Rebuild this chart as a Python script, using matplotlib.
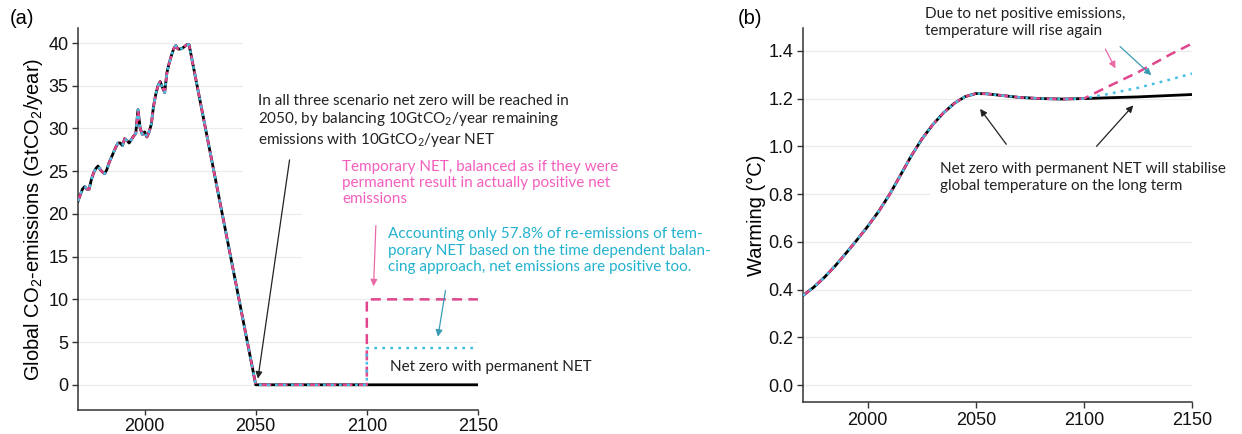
import matplotlib
matplotlib.use('Agg')
import matplotlib.pyplot as plt
from matplotlib.patches import Rectangle

# ---- data ----
hist_years = list(range(1970, 2021))
hist_emis = [21.5, 22.2, 22.9, 23.2, 22.9, 22.9, 24.0, 24.8, 25.3, 25.6,
             25.2, 24.9, 24.7, 25.2, 26.0, 26.6, 27.2, 27.8, 28.3, 28.3,
             28.0, 28.8, 28.6, 28.3, 28.7, 29.1, 29.4, 32.2, 30.0, 29.3,
             29.6, 29.0, 29.6, 30.5, 32.6, 34.0, 35.0, 35.5, 34.8, 34.2,
             36.5, 37.6, 38.5, 39.3, 39.7, 39.3, 39.3, 39.4, 39.6, 39.8,
             39.8]
netzero_year = 2050
net_start_year = 2100
end_year = 2150
pink_level = 10.0   # temporary NET balanced as permanent
cyan_level = 4.3    # 57.8 % of re-emissions accounted

warm_years = [1970, 1975, 1980, 1985, 1990, 1995, 2000, 2005, 2010, 2015,
              2020, 2025, 2030, 2035, 2040, 2045, 2050, 2055, 2060, 2065,
              2070, 2080, 2090, 2100]
warm_vals = [0.375, 0.41, 0.452, 0.50, 0.553, 0.608, 0.665, 0.727, 0.797, 0.877,
             0.958, 1.03, 1.09, 1.14, 1.18, 1.208, 1.221, 1.22, 1.215, 1.21,
             1.205, 1.20, 1.198, 1.20]
post_years = [2100, 2110, 2125, 2140, 2150]
warm_black = [1.20, 1.203, 1.207, 1.213, 1.217]
warm_pink = [1.20, 1.245, 1.31, 1.385, 1.43]
warm_cyan = [1.20, 1.217, 1.245, 1.28, 1.305]

PINK = '#e0468e'
CYAN = '#45bfe4'
PINK_TXT = '#f45fbe'
CYAN_TXT = '#22b2cf'
NOTE_FONT = 'Lato'
NOTE_SIZE = 11

plt.rcParams['font.family'] = ['Liberation Sans', 'DejaVu Sans']

fig = plt.figure(figsize=(12.42, 4.34), dpi=100)
ax1 = fig.add_axes([0.0628, 0.0553, 0.322, 0.880])
ax2 = fig.add_axes([0.6465, 0.0737, 0.3132, 0.862])


def style(ax):
    for s in ['top', 'right']:
        ax.spines[s].set_visible(False)
    for s in ['left', 'bottom']:
        ax.spines[s].set_color('#333333')
        ax.spines[s].set_linewidth(1.1)
    ax.tick_params(colors='#333333', labelcolor='#111111', labelsize=13,
                   length=4, width=1.0, pad=3)
    ax.yaxis.grid(True, color='#ebebeb', lw=0.9)
    ax.set_axisbelow(True)
    ax.set_xlim(1970, 2150)
    ax.set_xticks([2000, 2050, 2100, 2150])


def draw_three(ax, xb, yb, xp, yp, xc, yc):
    ax.plot(xb, yb, color='black', lw=2.0, zorder=3)
    ax.plot(xp, yp, color=PINK, lw=1.8, ls=(0, (4, 2.5)), zorder=4)
    ax.plot(xc, yc, color=CYAN, lw=1.8, ls=(0, (1.1, 2.1)), zorder=5)


# ---- (a) emissions ----
style(ax1)
ax1.tick_params(axis='x', length=3.5, pad=2)
black_x = hist_years + [netzero_year, end_year]
black_y = hist_emis + [0, 0]
pink_x = hist_years + [netzero_year, net_start_year, net_start_year, end_year]
pink_y = hist_emis + [0, 0, pink_level, pink_level]
cyan_y = hist_emis + [0, 0, cyan_level, cyan_level]
draw_three(ax1, black_x, black_y, pink_x, pink_y, pink_x, cyan_y)

ax1.set_ylim(-2.95, 41.75)
ax1.set_yticks(range(0, 45, 5))
ax1.set_ylabel('Global CO$\\mathregular{_2}$-emissions (GtCO$\\mathregular{_2}$/year)',
               fontsize=14.5, labelpad=2)

# white text boxes hiding gridlines, as in the source
ax1.add_patch(Rectangle((0.4125, 0.578), 0.9, 0.41, transform=ax1.transAxes,
                        fc='white', ec='none', zorder=2, clip_on=False))
ax1.add_patch(Rectangle((0.56, 0.344), 0.9, 0.225, transform=ax1.transAxes,
                        fc='white', ec='none', zorder=2, clip_on=False))

ax1.text(0.45, 0.828,
         'In all three scenario net zero will be reached in\n'
         '2050, by balancing 10GtCO$\\mathregular{_2}$/year remaining\n'
         'emissions with 10GtCO$\\mathregular{_2}$/year NET',
         transform=ax1.transAxes, ha='left', va='top', fontsize=NOTE_SIZE,
         family=NOTE_FONT, color='#222222', linespacing=1.2, zorder=6)
ax1.annotate('', xy=(2050.8, 0.4), xycoords='data',
             xytext=(0.53, 0.662), textcoords='axes fraction',
             arrowprops=dict(arrowstyle='-|>', color='#222222', lw=0.9,
                             mutation_scale=10), zorder=6)

ax1.text(0.66, 0.655,
         'Temporary NET, balanced as if they were\n'
         'permanent result in actually positive net\n'
         'emissions',
         transform=ax1.transAxes, ha='left', va='top', fontsize=NOTE_SIZE,
         family=NOTE_FONT, color=PINK_TXT, linespacing=1.2, zorder=6)
ax1.annotate('', xy=(2103, 11.2), xycoords='data',
             xytext=(0.745, 0.49), textcoords='axes fraction',
             arrowprops=dict(arrowstyle='-|>', color='#e86aa8', lw=0.9,
                             mutation_scale=10), zorder=6)

ax1.text(0.775, 0.478,
         'Accounting only 57.8% of re-emissions of tem-\n'
         'porary NET based on the time dependent balan-\n'
         'cing approach, net emissions are positive too.',
         transform=ax1.transAxes, ha='left', va='top', fontsize=NOTE_SIZE,
         family=NOTE_FONT, color=CYAN_TXT, linespacing=1.2, zorder=6)
ax1.annotate('', xy=(2131.8, 5.3), xycoords='data',
             xytext=(0.92, 0.32), textcoords='axes fraction',
             arrowprops=dict(arrowstyle='-|>', color='#3a9cb4', lw=0.9,
                             mutation_scale=10), zorder=6)

ax1.text(0.78, 0.112, 'Net zero with permanent NET', transform=ax1.transAxes,
         ha='left', va='center', fontsize=NOTE_SIZE, family=NOTE_FONT,
         color='#222222', zorder=6)

fig.text(22 / 1242, 1 - 18 / 434, '(a)', ha='center', va='center', fontsize=14.5)

# ---- (b) warming ----
style(ax2)
wx = warm_years + post_years[1:]
draw_three(ax2, wx, warm_vals + warm_black[1:], wx, warm_vals + warm_pink[1:],
           wx, warm_vals + warm_cyan[1:])

ax2.set_ylim(-0.071, 1.496)
ax2.set_yticks([0.0, 0.2, 0.4, 0.6, 0.8, 1.0, 1.2, 1.4])
ax2.yaxis.set_major_formatter(matplotlib.ticker.FormatStrFormatter('%.1f'))
ax2.set_ylabel('Warming (°C)', fontsize=14.5, labelpad=1.5)

ax2.add_patch(Rectangle((0.326, 0.53), 0.7, 0.13, transform=ax2.transAxes,
                        fc='white', ec='none', zorder=2, clip_on=False))

ax2.text(0.314, 1.056,
         'Due to net positive emissions,\ntemperature will rise again',
         transform=ax2.transAxes, ha='left', va='top', fontsize=NOTE_SIZE,
         family=NOTE_FONT, color='#222222', linespacing=1.25, zorder=6)
ax2.annotate('', xy=(2115.2, 1.316), xycoords='data',
             xytext=(0.774, 0.95), textcoords='axes fraction',
             arrowprops=dict(arrowstyle='-|>', color='#e86aa8', lw=0.9,
                             mutation_scale=10), zorder=6)
ax2.annotate('', xy=(2132.2, 1.29), xycoords='data',
             xytext=(0.810, 0.955), textcoords='axes fraction',
             arrowprops=dict(arrowstyle='-|>', color='#3a9cb4', lw=0.9,
                             mutation_scale=10), zorder=6)

ax2.text(0.352, 0.642,
         'Net zero with permanent NET will stabilise\n'
         'global temperature on the long term',
         transform=ax2.transAxes, ha='left', va='top', fontsize=NOTE_SIZE,
         family=NOTE_FONT, color='#222222', linespacing=1.32, zorder=6)
ax2.annotate('', xy=(2051.2, 1.166), xycoords='data',
             xytext=(0.527, 0.683), textcoords='axes fraction',
             arrowprops=dict(arrowstyle='-|>', color='#222222', lw=0.9,
                             mutation_scale=10), zorder=6)
ax2.annotate('', xy=(2123.7, 1.18), xycoords='data',
             xytext=(0.750, 0.678), textcoords='axes fraction',
             arrowprops=dict(arrowstyle='-|>', color='#222222', lw=0.9,
                             mutation_scale=10), zorder=6)

fig.text(750 / 1242, 1 - 18 / 434, '(b)', ha='center', va='center', fontsize=14.5)

fig.savefig('out.png', dpi=100)
